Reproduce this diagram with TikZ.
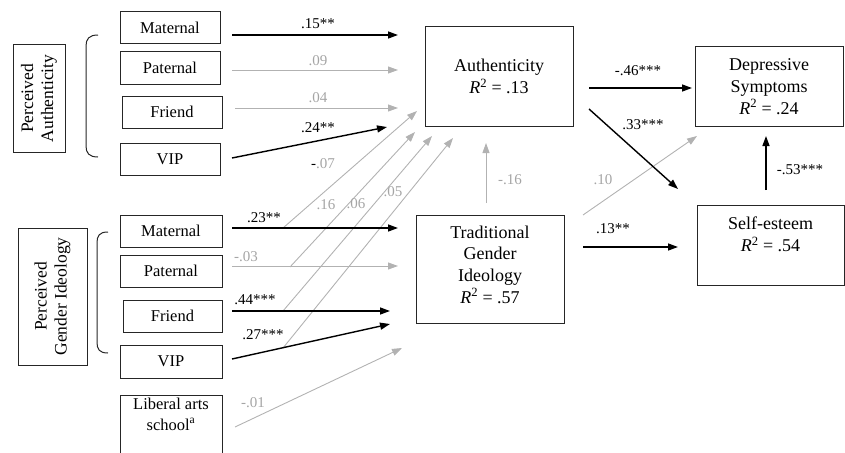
\documentclass[tikz,border=0pt]{standalone}
\usepackage{fontspec}
\setmainfont{Liberation Serif}
\usetikzlibrary{arrows.meta}
\definecolor{lg}{RGB}{178,178,178}
\definecolor{lbl}{RGB}{165,165,165}
\begin{document}
\begin{tikzpicture}[x=1pt,y=-1pt,
 box/.style={draw=black!85, line width=1pt, inner sep=0pt, align=center},
 sbox/.style={box, font=\fontsize{16.5}{21}\selectfont},
 bbox/.style={box, font=\fontsize{18}{21.7}\selectfont},
 blk/.style={draw=black, line width=1.4pt, -{Triangle[length=10pt,width=7pt]}},
 gry/.style={draw=lg, line width=0.9pt, -{Triangle[length=10pt,width=7pt]}},
 brk/.style={draw=black!85, line width=1pt},
 lab/.style={font=\fontsize{15}{17}\selectfont, inner sep=0pt},
 glab/.style={lab, text=lbl},
]
\clip (0,0) rectangle (845,452);

% ---------- left boxes ----------
\node[box, font=\fontsize{17.5}{20}\selectfont, minimum width=107pt, minimum height=52pt, rotate=90] (PA) at (39,98.5) {Perceived\\Authenticity};
\node[box, font=\fontsize{17.5}{20}\selectfont, minimum width=137pt, minimum height=69pt, rotate=90] (PGI) at (52.5,296.5) {Perceived\\Gender Ideology};

\node[sbox, minimum width=100pt, minimum height=32pt] (M1) at (170,28) {Maternal};
\node[sbox, minimum width=100pt, minimum height=32pt] (P1) at (170,68) {Paternal};
\node[sbox, minimum width=100pt, minimum height=32pt] (F1) at (172,112) {Friend};
\node[sbox, minimum width=100pt, minimum height=32pt] (V1) at (170,159) {VIP};

\node[sbox, minimum width=102pt, minimum height=32pt] (M2) at (171,231) {Maternal};
\node[sbox, minimum width=102pt, minimum height=32pt] (P2) at (171,271) {Paternal};
\node[sbox, minimum width=99pt, minimum height=32pt] (F2) at (172.5,316) {Friend};
\node[sbox, minimum width=102pt, minimum height=33pt] (V2) at (171,361.5) {VIP};
\node[sbox, minimum width=102pt, minimum height=70pt, anchor=north] (Lib) at (171,395) {};
\node[sbox, draw=none] (LibT) at (171,414) {Liberal arts\\school\textsuperscript{a}};

% brackets
\draw[brk] (98,35) .. controls (89,35) and (86,39) .. (86,46) -- (86,146) .. controls (86,153) and (89,157) .. (98,157);
\draw[brk] (108,232) .. controls (99,232) and (97,236) .. (97,243) -- (97,342) .. controls (97,349) and (99,353) .. (108,353);

% ---------- right boxes ----------
\node[bbox, minimum width=148pt, minimum height=99pt] (Auth) at (499,76.5) {Authenticity\\\textit{R}\textsuperscript{2} = .13};
\node[bbox, minimum width=148pt, minimum height=79pt] (Dep) at (769,86.5) {Depressive\\Symptoms\\\textit{R}\textsuperscript{2} = .24};
\node[bbox, minimum width=148pt, minimum height=108pt] (TGI) at (490,269) {};
\node[bbox, draw=none] (TGIT) at (490,264.5) {Traditional\\Gender\\Ideology\\\textit{R}\textsuperscript{2} = .57};
\node[bbox, minimum width=147pt, minimum height=80pt] (SE) at (770.5,245) {};
\node[bbox, draw=none] (SET) at (770.5,234.5) {Self-esteem\\\textit{R}\textsuperscript{2} = .54};

% ---------- connector end points ----------
\coordinate (m1s) at (232,35);  \coordinate (m1e) at (398,35);
\coordinate (p1s) at (232,70);  \coordinate (p1e) at (398,70);
\coordinate (f1s) at (235,108); \coordinate (f1e) at (398,108);
\coordinate (v1s) at (232,158); \coordinate (v1e) at (387,127);

\coordinate (m2s) at (232,228); \coordinate (m2e) at (398,228);
\coordinate (p2s) at (232,266); \coordinate (p2e) at (398,266);
\coordinate (f2s) at (232,311); \coordinate (f2e) at (390,311);
\coordinate (v2s) at (232,359); \coordinate (v2e) at (390,324);
\coordinate (lbs) at (235,427); \coordinate (lbe) at (402,348);

\coordinate (dAs) at (283,228); \coordinate (dAe) at (417,111);
\coordinate (dBs) at (290,267); \coordinate (dBe) at (415,132);
\coordinate (dCs) at (283,311); \coordinate (dCe) at (432,136);
\coordinate (dDs) at (283,348); \coordinate (dDe) at (453,138);

\coordinate (adS) at (589,88);  \coordinate (adE) at (692,88);
\coordinate (asS) at (589,109); \coordinate (asE) at (678,189);
\coordinate (tdS) at (583,215); \coordinate (tdE) at (697,136);
\coordinate (taS) at (486,203); \coordinate (taE) at (486,143);
\coordinate (tsS) at (583,247); \coordinate (tsE) at (678,247);
\coordinate (sdS) at (766,190); \coordinate (sdE) at (766,136);

% ---------- connectors ----------
\draw[gry] (dAs) -- (dAe);
\draw[gry] (dBs) -- (dBe);
\draw[gry] (dCs) -- (dCe);
\draw[gry] (dDs) -- (dDe);

\draw[blk] (m1s) -- (m1e);
\draw[gry] (p1s) -- (p1e);
\draw[gry] (f1s) -- (f1e);
\draw[blk] (v1s) -- (v1e);

\draw[blk] (m2s) -- (m2e);
\draw[gry] (p2s) -- (p2e);
\draw[blk] (f2s) -- (f2e);
\draw[blk] (v2s) -- (v2e);
\draw[gry] (lbs) -- (lbe);

\draw[gry] (tdS) -- (tdE);
\draw[blk] (adS) -- (adE);
\draw[blk] (asS) -- (asE);
\draw[gry] (taS) -- (taE);
\draw[blk] (tsS) -- (tsE);
\draw[blk] (sdS) -- (sdE);

% ---------- labels ----------
\node[lab]  (l1) at (318,24)  {.15**};
\node[glab] (l2) at (318,61)  {.09};
\node[glab] (l3) at (318,98)  {.04};
\node[lab]  (l4) at (318,128) {.24**};
\node[lab]  (l5) at (323,164) {-\textcolor{lbl}{.07}};
\node[glab] (l6) at (326,205) {.16};
\node[glab] (l7) at (356,204) {.06};
\node[glab] (l8) at (393,192) {.05};

\node[lab]  (l9)  at (264,218) {.23**};
\node[glab] (l10) at (246,257) {-.03};
\node[lab]  (l11) at (255,300) {.44***};
\node[lab]  (l12) at (263,335) {.27***};
\node[glab] (l13) at (253,403) {-.01};

\node[lab]  (l14) at (638,71)  {-.46***};
\node[lab]  (l15) at (643,125) {.33***};
\node[glab] (l16) at (603,180) {.10};
\node[glab] (l17) at (510,180) {-.16};
\node[lab]  (l18) at (613,229) {.13**};
\node[lab]  (l19) at (800,170) {-.53***};
\end{tikzpicture}
\end{document}
